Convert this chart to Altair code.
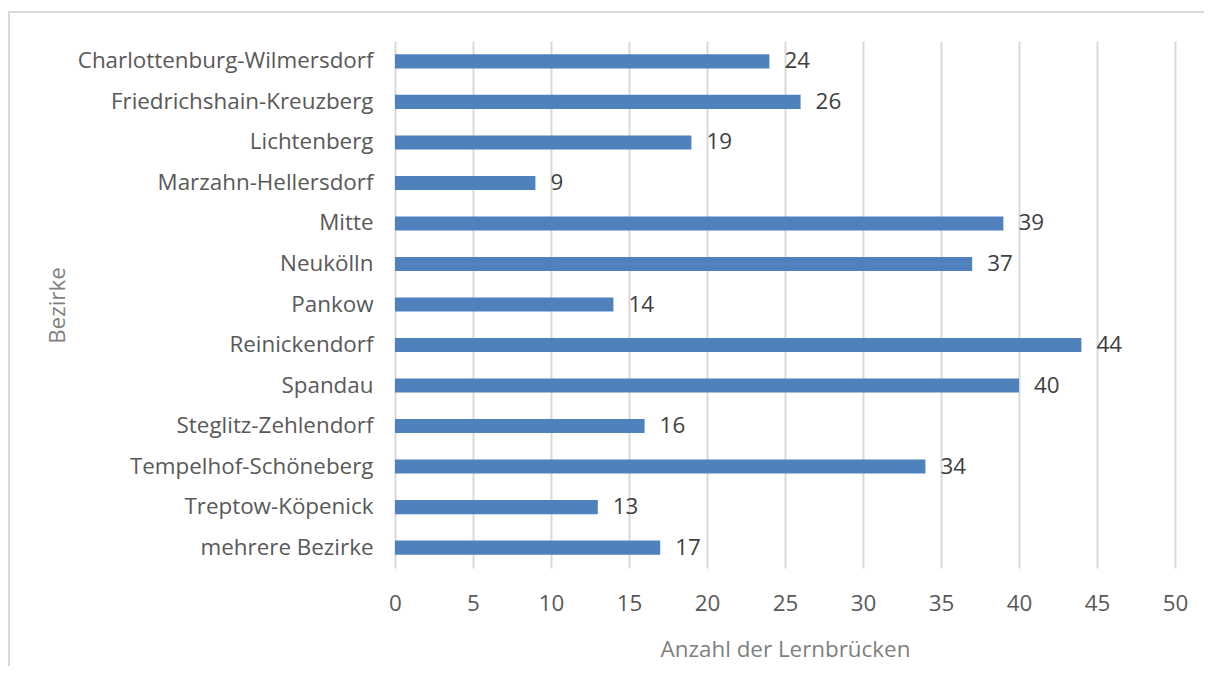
import altair as alt
import pandas as pd

bezirke = [
    "Charlottenburg-Wilmersdorf", "Friedrichshain-Kreuzberg", "Lichtenberg",
    "Marzahn-Hellersdorf", "Mitte", "Neukölln", "Pankow", "Reinickendorf",
    "Spandau", "Steglitz-Zehlendorf", "Tempelhof-Schöneberg",
    "Treptow-Köpenick", "mehrere Bezirke",
]
anzahl = [24, 26, 19, 9, 39, 37, 14, 44, 40, 16, 34, 13, 17]
x_ticks = [0, 5, 10, 15, 20, 25, 30, 35, 40, 45, 50]

df = pd.DataFrame({"Bezirk": bezirke, "Anzahl": anzahl})

FONT = "Open Sans"
FS = 22.4

y_enc = alt.Y(
    "Bezirk:N", sort=bezirke, title="Bezirke",
    scale=alt.Scale(paddingInner=0.65, paddingOuter=0.33),
    axis=alt.Axis(labelFont=FONT, labelFontSize=FS, labelColor="#595959",
                  labelPadding=22, labelLimit=400, ticks=False, domain=False, grid=False,
                  titleFont=FONT, titleFontSize=FS, titleColor="#7f7f7f",
                  titleFontWeight="normal", titleX=-338, titleY=264,
                  titleBaseline="middle"),
)
x_enc = alt.X(
    "Anzahl:Q", title="Anzahl der Lernbrücken",
    scale=alt.Scale(domain=[0, 50], nice=False),
    axis=alt.Axis(values=x_ticks, grid=True, gridColor="#d9d9d9", gridWidth=2,
                  domain=False, ticks=False, labelPadding=24, labelFlush=False,
                  labelFont=FONT, labelFontSize=FS, labelColor="#595959",
                  titleFont=FONT, titleFontSize=FS, titleColor="#7f7f7f",
                  titleFontWeight="normal", titlePadding=24),
)

bars = alt.Chart(df).mark_bar(color="#4F81BD").encode(x=x_enc, y=y_enc)
labels = alt.Chart(df).mark_text(
    align="left", baseline="middle", dx=15, font=FONT, fontSize=FS, color="#404040"
).encode(x="Anzahl:Q", y=alt.Y("Bezirk:N", sort=bezirke), text="Anzahl:Q")

frame = alt.Chart(df).mark_rect(
    fill=None, stroke="#d9d9d9", strokeWidth=2
).encode(x=alt.value(-386), x2=alt.value(830), y=alt.value(-29), y2=alt.value(700))

chart = alt.layer(frame, bars, labels).properties(
    width=780, height=527,
    padding={"left": 387, "top": 33, "right": 29, "bottom": 98},
    autosize=alt.AutoSizeParams(type="none"),
).configure_view(stroke=None)

chart.save("out.html", embed_options={"renderer": "svg", "actions": False})
